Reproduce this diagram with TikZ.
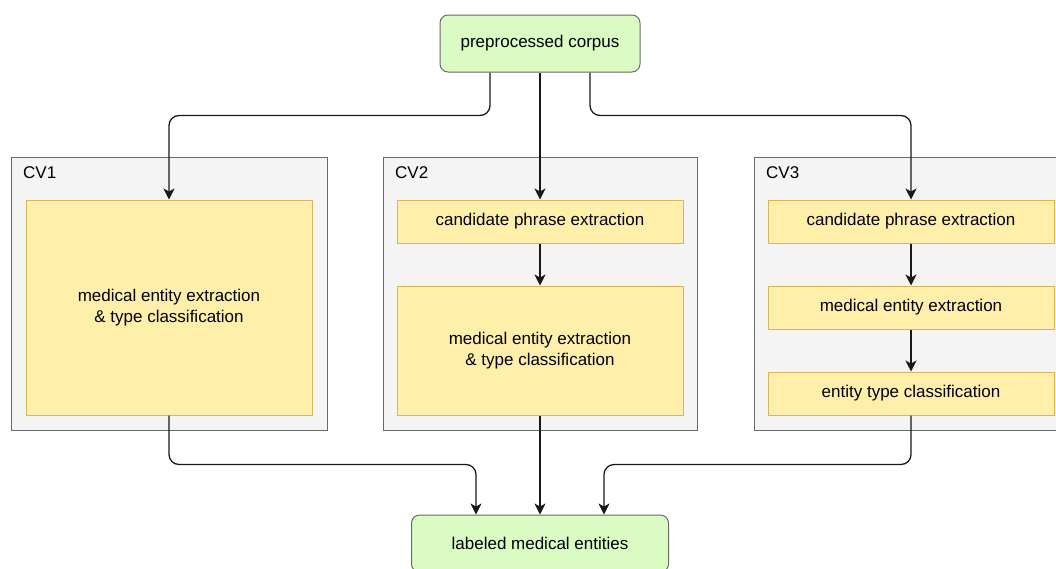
\documentclass[tikz,border=0pt]{standalone}
\usepackage{fontspec}
\setmainfont{Liberation Sans}
\usetikzlibrary{arrows.meta,calc}
\definecolor{gfill}{HTML}{DAFCC2}
\definecolor{gline}{HTML}{6A6A6A}
\definecolor{yfill}{HTML}{FFEFA8}
\definecolor{yline}{HTML}{D6B656}
\definecolor{cfill}{HTML}{F4F4F4}
\definecolor{cline}{HTML}{6A6A6A}
\tikzset{
  endbox/.style={draw=gline, fill=gfill, line width=1pt, rounded corners=8pt, align=center, font=\fontsize{17}{20.5}\selectfont, inner sep=0pt},
  stepbox/.style={draw=yline, fill=yfill, line width=1pt, align=center, font=\fontsize{17}{20.5}\selectfont, inner sep=0pt, minimum width=286pt},
  cvbox/.style={draw=cline, fill=cfill, line width=1pt},
  cvlabel/.style={anchor=west, font=\fontsize{17}{20.5}\selectfont, inner sep=0pt},
  arr/.style={draw=black!90, line width=1.3pt, rounded corners=10pt, -{Stealth[length=11pt,width=11pt,inset=3pt]}}
}
\begin{document}
\begin{tikzpicture}[x=1pt,y=-1pt]
\useasboundingbox (0,0) rectangle (1056,568);
\clip (0,0) rectangle (1056,568);
% containers
\draw[cvbox] (11,157) rectangle (327,430);
\draw[cvbox] (383,157) rectangle (697,430);
\draw[cvbox] (754,157) rectangle (1075,430);
\node[cvlabel] (l1) at (23,172.5) {CV1};
\node[cvlabel] (l2) at (395,172.5) {CV2};
\node[cvlabel] (l3) at (766,172.5) {CV3};
% end nodes
\node[endbox, minimum width=200pt, minimum height=57pt] (top) at (540,43.5) {preprocessed corpus};
\node[endbox, minimum width=257pt, minimum height=57pt] (bot) at (540,543.5) {labeled medical entities};
% CV1
\node[stepbox, minimum height=215pt] (a1) at (169,307.5) {medical entity extraction\\ \& type classification};
% CV2
\node[stepbox, minimum height=43pt] (b1) at (540,221.5) {candidate phrase extraction};
\node[stepbox, minimum height=129pt] (b2) at (540,350.5) {medical entity extraction\\ \& type classification};
% CV3
\node[stepbox, minimum height=43pt] (c1) at (911,221.5) {candidate phrase extraction};
\node[stepbox, minimum height=43pt] (c2) at (911,307.5) {medical entity extraction};
\node[stepbox, minimum height=43pt] (c3) at (911,393.5) {entity type classification};
% connectors
\draw[arr] ([xshift=-50pt]top.south) -- ++(0,43) -| (a1.north);
\draw[arr] (top.south) -- (b1.north);
\draw[arr] ([xshift=50pt]top.south) -- ++(0,43) -| (c1.north);
\draw[arr] (b1.south) -- (b2.north);
\draw[arr] (c1.south) -- (c2.north);
\draw[arr] (c2.south) -- (c3.north);
\draw[arr] (a1.south) -- ++(0,49) -| ([xshift=-64pt]bot.north);
\draw[arr] (b2.south) -- (bot.north);
\draw[arr] (c3.south) -- ++(0,49) -| ([xshift=64pt]bot.north);
\end{tikzpicture}
\end{document}
